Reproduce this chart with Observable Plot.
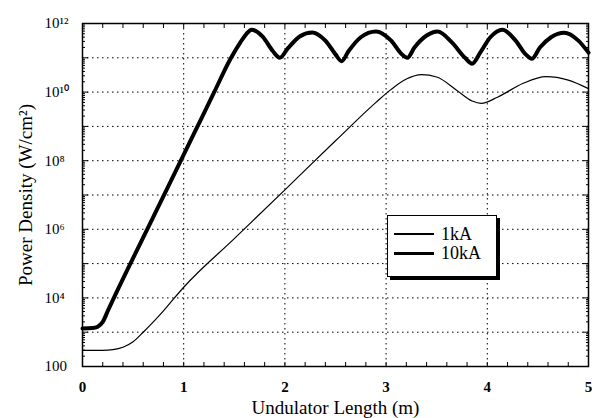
<!DOCTYPE html>
<html><head><meta charset="utf-8">
<script src="https://cdn.jsdelivr.net/npm/d3@7"></script>
<script src="https://cdn.jsdelivr.net/npm/@observablehq/plot@0.6"></script>
<style>
body{margin:0;background:#fff;}
#wrap{position:relative;width:592px;height:418px;font-family:"Liberation Serif",serif;}
#legend{position:absolute;left:387px;top:215px;width:108px;height:60px;border:1.5px solid #000;background:#fff;box-shadow:3px 3px 0 #000;font-family:"Liberation Serif",serif;font-size:18px;}
.row{position:absolute;left:6px;height:20px;display:flex;align-items:center;}
.sw{width:40px;background:#000;margin-right:7px;}
</style></head><body>
<div id="wrap"></div>
<script>
// 1kA series (x in m, log10 power density)
const x1kA = [0,0.2,0.3,0.4,0.5,0.6,0.7,0.8,0.9,1.0,1.5,2.0,2.5,2.9,3.05,3.2,3.35,3.5,3.7,3.85,3.94,4.1,4.35,4.58,4.8,5.0];
const log1kA = [2.47,2.47,2.49,2.56,2.72,3.0,3.3,3.62,3.97,4.31,5.73,7.15,8.58,9.7,10.08,10.38,10.51,10.44,10.05,9.74,9.67,9.85,10.25,10.45,10.35,10.1];
// 10kA series
const x10kA = [0,0.1,0.15,0.2,0.25,0.31,0.7,1.1,1.3,1.46,1.56,1.62,1.67,1.78,1.88,1.95,2.03,2.15,2.27,2.4,2.5,2.56,2.63,2.75,2.9,3.05,3.15,3.21,3.28,3.4,3.51,3.65,3.78,3.85,3.93,4.03,4.15,4.28,4.38,4.44,4.52,4.63,4.76,4.9,5.0];
const log10kA = [3.11,3.12,3.16,3.3,3.62,4.0,6.36,8.78,9.99,10.96,11.45,11.7,11.82,11.62,11.2,11.0,11.28,11.63,11.74,11.5,11.1,10.9,11.2,11.6,11.77,11.5,11.12,11.0,11.3,11.65,11.77,11.45,11.0,10.83,11.15,11.6,11.82,11.5,11.1,10.97,11.3,11.6,11.73,11.5,11.15];

const yMajor = [1e2,1e4,1e6,1e8,1e10,1e12];
const yLabels = ["100","10\u2074","10\u2076","10\u2078","10\u00B9\u2070","10\u00B9\u00B2"];
const yGrid = [1e3,1e4,1e5,1e6,1e7,1e8,1e9,1e10,1e11];
const xMajor = [0,1,2,3,4,5];
const xLabels = ["0","1","2","3","4","5"];
const xGrid = [1,2,3,4];

const yDecades = d3.range(2,13).map(e=>Math.pow(10,e));
const yMinor = [];
for (let e=2;e<12;e++) for (let m=2;m<=9;m++) yMinor.push(m*Math.pow(10,e));
const xMinor = d3.range(0,26).map(i=>i*0.2);

const d1 = x1kA.map((x,i)=>({x, y:Math.pow(10,log1kA[i])}));
const d10 = x10kA.map((x,i)=>({x, y:Math.pow(10,log10kA[i])}));

const dash = "1.5,3.5";
const chart = Plot.plot({
  width:592, height:418,
  marginLeft:82, marginRight:4, marginTop:23, marginBottom:52,
  style:{fontFamily:"Liberation Serif, serif", fontSize:"13px", background:"#fff", color:"#000"},
  x:{domain:[0,5]},
  y:{type:"log", domain:[1e2,1e12]},
  marks:[
    Plot.gridX(xGrid,{stroke:"#000",strokeOpacity:1,strokeDasharray:dash,strokeWidth:1}),
    Plot.gridY(yGrid,{stroke:"#000",strokeOpacity:1,strokeDasharray:dash,strokeWidth:1}),
    Plot.axisY(yMajor,{anchor:"left",tickSize:0,tickPadding:38,textAnchor:"start",
      tickFormat:(d)=>yLabels[yMajor.indexOf(d)], fontSize:15,
      label:"Power Density (W/cm\u00B2)", labelAnchor:"center", labelOffset:64, labelArrow:"none"}),
    Plot.axisY(yMinor,{anchor:"left",tickSize:-3,tickFormat:()=>"",label:null}),
    Plot.axisY(yDecades,{anchor:"left",tickSize:-6,tickFormat:()=>"",label:null}),
    Plot.axisY(yMinor,{anchor:"right",tickSize:-3,tickFormat:()=>"",label:null}),
    Plot.axisY(yDecades,{anchor:"right",tickSize:-6,tickFormat:()=>"",label:null}),
    Plot.axisX(xMajor,{anchor:"bottom",tickSize:0,tickPadding:15,
      tickFormat:(d)=>xLabels[xMajor.indexOf(d)], fontSize:15,
      label:"Undulator Length (m)", labelAnchor:"center", labelOffset:47, labelArrow:"none"}),
    Plot.axisX(xMinor,{anchor:"bottom",tickSize:-4,tickFormat:()=>"",label:null}),
    Plot.axisX(xMinor,{anchor:"top",tickSize:-4,tickFormat:()=>"",label:null}),
    Plot.frame({stroke:"#000",strokeWidth:1.5}),
    Plot.line(d1,{x:"x",y:"y",curve:"monotone-x",stroke:"#000",strokeWidth:1.2}),
    Plot.line(d10,{x:"x",y:"y",curve:"monotone-x",stroke:"#000",strokeWidth:4})
  ]
});
const wrap = document.getElementById("wrap");
wrap.appendChild(chart);
// axis label font size; bold x tick numbers
chart.querySelectorAll("g[aria-label='y-axis label'] text, g[aria-label='x-axis label'] text").forEach(t=>t.setAttribute("font-size","19"));
chart.querySelectorAll("g[aria-label='x-axis tick label'] text").forEach(t=>t.setAttribute("font-weight","bold"));
const lg = document.createElement("div");
lg.id="legend";
lg.innerHTML = '<div class="row" style="top:8px"><div class="sw" style="height:1.2px"></div><span>1kA</span></div>'+
               '<div class="row" style="top:27px"><div class="sw" style="height:3px"></div><span>10kA</span></div>';
wrap.appendChild(lg);
</script>
</body></html>
